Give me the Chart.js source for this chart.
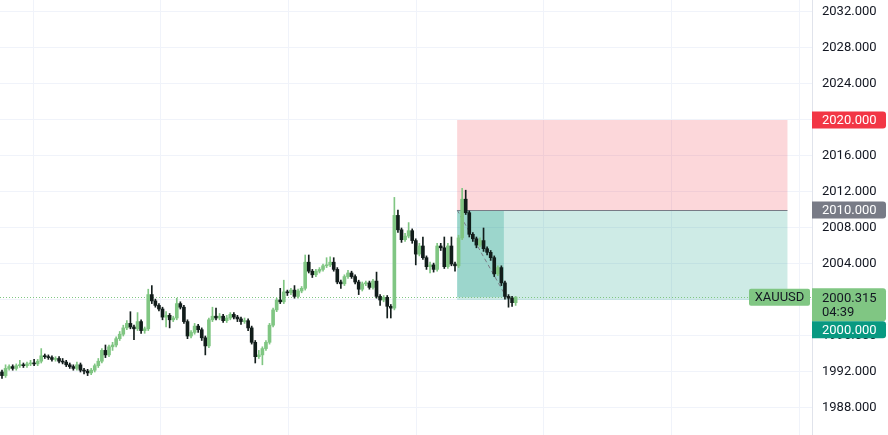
<!DOCTYPE html>
<html>
<head>
<meta charset="utf-8">
<script src="https://cdn.jsdelivr.net/npm/chart.js@4.4.1/dist/chart.umd.min.js"></script>
<style>
  html, body { margin: 0; padding: 0; background: #fff; }
  #wrap { width: 888px; height: 435px; }
</style>
</head>
<body>
<div id="wrap"><canvas id="chart"></canvas></div>
<script>
// XAUUSD candles (one per bar, oldest first)
var opens = [
  1992.0, 1991.6, 1992.4, 1992.6, 1992.4, 1992.7, 1992.8, 1992.7, 1992.9, 1993.0,
  1992.9, 1993.2, 1993.8, 1993.7, 1993.6, 1993.4, 1993.5, 1993.2, 1993.1, 1992.8,
  1992.6, 1992.4, 1992.8, 1992.2, 1992.1, 1991.9, 1992.2, 1992.7, 1993.2, 1994.4,
  1993.9, 1994.8, 1995.0, 1995.7, 1996.2, 1996.9, 1997.4, 1997.0, 1996.8, 1997.6,
  1996.6, 1996.8, 2000.6, 1999.9, 1999.4, 1999.0, 1998.1, 1998.3, 1997.8, 1998.0,
  1999.6, 1999.2, 1997.6, 1996.0, 1996.4, 1997.1, 1996.7, 1995.8, 1994.9, 1997.8,
  1998.2, 1998.0, 1998.2, 1997.7, 1998.0, 1998.4, 1998.1, 1997.9, 1997.6, 1997.7,
  1996.9, 1995.3, 1993.7, 1993.9, 1994.6, 1995.3, 1997.2, 1998.9, 2000.0, 1999.8,
  2000.9, 2000.8, 2001.1, 2000.4, 2001.0, 2001.3, 2004.2, 2003.2, 2002.8, 2003.2,
  2003.4, 2003.8, 2003.9, 2004.2, 2003.4, 2002.0, 2001.8, 2002.6, 2003.0, 2002.6,
  2002.0, 2001.2, 2001.8, 2001.9, 2001.4, 2002.1, 2000.4, 2000.0, 2000.3, 1999.3,
  1999.1, 2009.4, 2007.8, 2006.7, 2007.1, 2007.7, 2006.6, 2005.1, 2006.0, 2004.7,
  2003.7, 2003.9, 2003.4, 2006.0, 2005.8, 2003.7, 2006.0, 2004.0, 2003.8, 2006.9,
  2011.2, 2009.7, 2007.3, 2006.8, 2006.1, 2006.6, 2005.7, 2005.3, 2004.7, 2002.9,
  2003.6, 2001.9, 2000.4, 2000.2, 1999.7
];
var highs = [
  1992.2, 1992.8, 1992.8, 1992.8, 1992.9, 1993.3, 1993.0, 1993.1, 1993.3, 1993.4,
  1993.4, 1994.6, 1994.0, 1993.9, 1993.8, 1993.7, 1993.7, 1993.5, 1993.3, 1993.0,
  1992.8, 1993.1, 1993.0, 1992.4, 1992.3, 1992.4, 1992.9, 1993.5, 1994.6, 1995.0,
  1995.0, 1995.3, 1995.9, 1996.5, 1997.2, 1997.7, 1998.7, 1997.2, 1998.6, 1997.8,
  1997.0, 2001.2, 2001.6, 2000.1, 1999.6, 1999.2, 1998.7, 1998.5, 1998.2, 2000.2,
  1999.8, 1999.4, 1997.8, 1996.6, 1997.4, 1997.3, 1996.9, 1996.0, 1998.0, 1999.2,
  1999.1, 1998.5, 1998.4, 1998.3, 1998.6, 1998.6, 1998.3, 1998.1, 1998.0, 1997.9,
  1997.1, 1995.5, 1994.4, 1994.8, 1995.5, 1997.4, 1999.1, 2000.2, 2001.3, 2002.2,
  2001.1, 2001.3, 2001.6, 2001.2, 2001.5, 2005.0, 2005.0, 2003.4, 2003.4, 2003.6,
  2004.0, 2004.7, 2004.8, 2004.7, 2003.6, 2002.2, 2002.8, 2003.3, 2003.2, 2002.8,
  2002.2, 2002.0, 2002.1, 2002.1, 2002.3, 2003.1, 2000.6, 2000.5, 2000.5, 1999.5,
  2011.4, 2010.0, 2008.0, 2007.4, 2008.6, 2007.9, 2006.8, 2006.3, 2007.0, 2004.9,
  2004.2, 2004.1, 2006.3, 2006.3, 2007.0, 2006.3, 2007.0, 2004.2, 2007.2, 2012.4,
  2012.2, 2009.9, 2007.5, 2007.0, 2006.9, 2008.0, 2005.9, 2005.5, 2004.9, 2003.8,
  2003.8, 2002.1, 2000.6, 2000.4, 2000.4
];
var lows = [
  1991.3, 1991.4, 1992.2, 1992.2, 1992.2, 1992.5, 1992.5, 1992.5, 1992.7, 1992.7,
  1992.7, 1993.0, 1993.5, 1993.4, 1993.2, 1993.2, 1993.0, 1992.9, 1992.6, 1992.4,
  1992.2, 1992.2, 1992.0, 1991.8, 1991.6, 1991.7, 1992.0, 1992.5, 1993.0, 1993.6,
  1993.7, 1994.4, 1994.8, 1995.5, 1996.0, 1996.7, 1996.8, 1995.6, 1996.6, 1996.3,
  1996.3, 1996.6, 1999.6, 1999.2, 1998.8, 1997.8, 1997.0, 1996.9, 1997.6, 1997.8,
  1999.0, 1997.4, 1995.7, 1995.8, 1996.2, 1996.4, 1995.5, 1993.9, 1994.7, 1997.6,
  1997.8, 1997.8, 1997.5, 1997.5, 1997.8, 1997.9, 1997.6, 1997.3, 1997.4, 1996.6,
  1995.1, 1993.0, 1993.5, 1992.8, 1994.4, 1995.1, 1997.0, 1998.7, 1999.6, 1999.6,
  2000.5, 2000.6, 2000.2, 2000.2, 2000.8, 2001.1, 2003.0, 2002.5, 2002.6, 2003.0,
  2003.2, 2003.6, 2003.7, 2003.2, 2001.8, 2001.3, 2001.6, 2002.4, 2002.4, 2001.8,
  2000.6, 2001.0, 2001.6, 2001.2, 2001.2, 2000.2, 1999.4, 1999.8, 1998.0, 1998.0,
  1998.9, 2007.5, 2006.4, 2006.5, 2006.9, 2006.3, 2003.9, 2004.9, 2004.5, 2003.4,
  2003.0, 2003.1, 2003.2, 2005.5, 2003.5, 2003.5, 2003.8, 2003.2, 2003.6, 2006.7,
  2009.5, 2007.0, 2006.5, 2005.8, 2005.9, 2005.4, 2005.0, 2004.4, 2002.6, 2002.7,
  2001.6, 2000.1, 1999.2, 1999.3, 1999.4
];
var closes = [
  1991.6, 1992.4, 1992.6, 1992.4, 1992.7, 1992.8, 1992.7, 1992.9, 1993.0, 1992.9,
  1993.2, 1993.8, 1993.7, 1993.6, 1993.4, 1993.5, 1993.2, 1993.1, 1992.8, 1992.6,
  1992.4, 1992.8, 1992.2, 1992.1, 1991.9, 1992.2, 1992.7, 1993.2, 1994.4, 1993.9,
  1994.8, 1995.0, 1995.7, 1996.2, 1996.9, 1997.4, 1997.0, 1996.8, 1997.6, 1996.6,
  1996.8, 2000.6, 1999.9, 1999.4, 1999.0, 1998.1, 1998.3, 1997.8, 1998.0, 1999.6,
  1999.2, 1997.6, 1996.0, 1996.4, 1997.1, 1996.7, 1995.8, 1994.9, 1997.8, 1998.2,
  1998.0, 1998.2, 1997.7, 1998.0, 1998.4, 1998.1, 1997.9, 1997.6, 1997.7, 1996.9,
  1995.3, 1993.7, 1993.9, 1994.6, 1995.3, 1997.2, 1998.9, 2000.0, 1999.8, 2000.9,
  2000.8, 2001.1, 2000.4, 2001.0, 2001.3, 2004.2, 2003.2, 2002.8, 2003.2, 2003.4,
  2003.8, 2003.9, 2004.2, 2003.4, 2002.0, 2001.8, 2002.6, 2003.0, 2002.6, 2002.0,
  2001.2, 2001.8, 2001.9, 2001.4, 2002.1, 2000.4, 2000.0, 2000.3, 1999.3, 1999.1,
  2009.4, 2007.8, 2006.7, 2007.1, 2007.7, 2006.6, 2005.1, 2006.0, 2004.7, 2003.7,
  2003.9, 2003.4, 2006.0, 2005.8, 2003.7, 2006.0, 2004.0, 2003.8, 2006.9, 2011.2,
  2009.7, 2007.3, 2006.8, 2006.1, 2006.6, 2005.7, 2005.3, 2004.7, 2002.9, 2003.6,
  2001.9, 2000.4, 2000.2, 1999.7, 2000.315
];

var yTicks = [1988, 1992, 1996, 2000, 2004, 2008, 2012, 2016, 2020, 2024, 2028, 2032];

var symbol = "XAUUSD";
var lastPrice = 2000.315;
var countdown = "04:39";

// long/short position tool (prices, and bar indexes for its edges)
var stopPrice = 2020;
var entryPrice = 2010;
var targetPrice = 2000;
var posStart = 127.6;
var posNow = 140.7;
var posEnd = 220.2;
var pathEnd = 141.4;

var green = "#80c683";
var dark = "#121d1b";

var wickData = [], bodyData = [], candleColors = [];
for (var i = 0; i < closes.length; i++) {
  wickData.push({ x: i, y: [lows[i], highs[i]] });
  bodyData.push({ x: i, y: [opens[i], closes[i]] });
  candleColors.push(closes[i] >= opens[i] ? green : dark);
}

function rightLabel(ctx, area, yMid, h, lines, bg, fg) {
  ctx.fillStyle = bg;
  ctx.beginPath();
  ctx.roundRect(area.right, yMid - h / 2, 74, h, [0, 3, 3, 0]);
  ctx.fill();
  ctx.fillStyle = fg;
  ctx.textAlign = "left";
  ctx.textBaseline = "middle";
  for (var k = 0; k < lines.length; k++) {
    ctx.fillText(lines[k], area.right + 10, yMid - (lines.length - 1) * 7 + k * 14 + 1);
  }
}

var positionTool = {
  id: "positionTool",
  beforeDatasetsDraw: function(chart) {
    var ctx = chart.ctx, xs = chart.scales.x, ys = chart.scales.y, area = chart.chartArea;
    var x0 = xs.getPixelForValue(posStart);
    var x1 = xs.getPixelForValue(posEnd);
    var xn = xs.getPixelForValue(posNow);
    var yStop = ys.getPixelForValue(stopPrice);
    var yEntry = ys.getPixelForValue(entryPrice);
    var yTarget = ys.getPixelForValue(targetPrice);
    var yLast = ys.getPixelForValue(lastPrice);
    ctx.save();
    ctx.fillStyle = "rgba(242,54,69,0.2)";
    ctx.fillRect(x0, yStop, x1 - x0, yEntry - yStop);
    ctx.fillStyle = "rgba(8,153,129,0.2)";
    ctx.fillRect(x0, yEntry, x1 - x0, yTarget - yEntry);
    ctx.fillStyle = "rgba(8,153,129,0.25)";
    ctx.fillRect(x0, yEntry, xn - x0, yLast - yEntry);

    ctx.strokeStyle = "#787b86";
    ctx.lineWidth = 1;
    ctx.beginPath();
    ctx.moveTo(x0, Math.round(yEntry) + 0.5);
    ctx.lineTo(x1, Math.round(yEntry) + 0.5);
    ctx.stroke();

    ctx.setLineDash([4, 3]);
    ctx.beginPath();
    ctx.moveTo(x0, yEntry);
    ctx.lineTo(xs.getPixelForValue(pathEnd), yLast);
    ctx.stroke();

    // last price line
    ctx.strokeStyle = green;
    ctx.setLineDash([1, 2]);
    ctx.beginPath();
    ctx.moveTo(area.left, Math.round(yLast) + 0.5);
    ctx.lineTo(area.right, Math.round(yLast) + 0.5);
    ctx.stroke();
    ctx.restore();
  },
  afterDraw: function(chart) {
    var ctx = chart.ctx, ys = chart.scales.y, area = chart.chartArea;
    ctx.save();
    ctx.font = "13px Roboto";
    var yLast = ys.getPixelForValue(lastPrice);
    rightLabel(ctx, area, ys.getPixelForValue(stopPrice), 17, [stopPrice.toFixed(3)], "#f23645", "#ffffff");
    rightLabel(ctx, area, ys.getPixelForValue(entryPrice), 17, [entryPrice.toFixed(3)], "#787b86", "#ffffff");
    rightLabel(ctx, area, yLast + 7.5, 33, [lastPrice.toFixed(3), countdown], green, "#131722");
    rightLabel(ctx, area, yLast + 32.5, 17, [targetPrice.toFixed(3)], "#089981", "#ffffff");

    // symbol tag left of the scale
    ctx.fillStyle = green;
    ctx.beginPath();
    ctx.roundRect(area.right - 63, yLast - 8.5, 61, 17, 2);
    ctx.fill();
    ctx.fillStyle = "#131722";
    ctx.textAlign = "center";
    ctx.textBaseline = "middle";
    ctx.fillText(symbol, area.right - 32.5, yLast + 1);
    ctx.restore();
  }
};

var gridStart = 8.7, gridEvery = 35.8;

new Chart(document.getElementById("chart"), {
  type: "bar",
  data: {
    datasets: [
      { label: "wick", data: wickData, backgroundColor: candleColors, barThickness: 1, minBarLength: 1 },
      { label: "body", data: bodyData, backgroundColor: candleColors, barThickness: 3, minBarLength: 1 }
    ]
  },
  options: {
    responsive: true,
    maintainAspectRatio: false,
    animation: false,
    layout: { padding: 0 },
    datasets: { bar: { grouped: false } },
    plugins: { legend: { display: false }, tooltip: { enabled: false } },
    scales: {
      x: {
        type: "linear",
        offset: false,
        min: -0.56,
        max: -0.56 + 812 / 3.567,
        ticks: { display: false },
        grid: { color: "#f0f3fa", drawTicks: false, offset: false },
        border: { display: false },
        afterBuildTicks: function(scale) {
          var t = [];
          for (var v = gridStart; v < scale.max; v += gridEvery) t.push({ value: v });
          scale.ticks = t;
        },
        afterFit: function(scale) {
          scale.height = 0;
          scale.paddingLeft = 0; scale.paddingRight = 0;
        }
      },
      y: {
        position: "right",
        min: 1985,
        max: 2033.333,
        ticks: {
          color: "#131722",
          font: { family: "Roboto", size: 13 },
          padding: 10,
          callback: function(v) { return Number(v).toFixed(3); }
        },
        grid: { color: "#f0f3fa", drawTicks: false },
        border: { color: "#e0e3eb" },
        afterBuildTicks: function(scale) {
          scale.ticks = yTicks.map(function(v) { return { value: v }; });
        },
        afterFit: function(scale) {
          scale.width = 76;
          scale.paddingTop = 0; scale.paddingBottom = 0;
        }
      }
    }
  },
  plugins: [positionTool]
});
</script>
</body>
</html>
